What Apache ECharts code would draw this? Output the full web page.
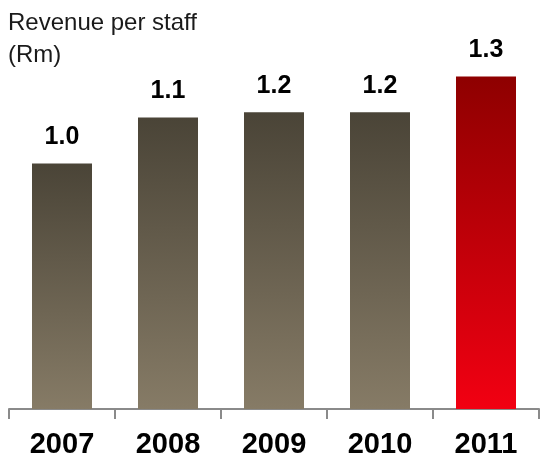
<!DOCTYPE html>
<html>
<head>
<meta charset="utf-8">
<script src="https://cdn.jsdelivr.net/npm/echarts@6/dist/echarts.min.js"></script>
<style>
  html, body { margin: 0; padding: 0; background: #fff; }
  #chart { width: 541px; height: 459px; }
</style>
</head>
<body>
<div id="chart"></div>
<script>
// Revenue per staff (Rm), by financial year
const years = ['2007', '2008', '2009', '2010', '2011'];
const revenuePerStaff = [0.96, 1.14, 1.16, 1.16, 1.30];
const highlightYear = '2011';

const FONT = '"Liberation Sans", Arial, sans-serif';

function barGradient(top, bottom) {
  return new echarts.graphic.LinearGradient(0, 0, 0, 1, [
    { offset: 0, color: top },
    { offset: 1, color: bottom }
  ]);
}

const seriesData = years.map((y, i) => ({
  value: revenuePerStaff[i],
  itemStyle: {
    color: y === highlightYear
      ? barGradient('#8e0000', '#f20012')
      : barGradient('#4a4437', '#867b66')
  }
}));

const chart = echarts.init(document.getElementById('chart'), null, { renderer: 'canvas' });
chart.setOption({
  animation: false,
  backgroundColor: '#fff',
  title: {
    text: 'Revenue per staff\n(Rm)',
    left: 3,
    top: 2,
    textStyle: {
      fontFamily: FONT,
      fontSize: 24,
      fontWeight: 'normal',
      lineHeight: 32,
      color: '#1a1a1a'
    }
  },
  grid: { left: 9, right: 2, top: 51, bottom: 50 },
  xAxis: {
    type: 'category',
    data: years,
    boundaryGap: true,
    axisLine: { show: true, lineStyle: { color: '#8a8a8a', width: 2 } },
    axisTick: {
      show: true,
      alignWithLabel: false,
      interval: 0,
      length: 10,
      lineStyle: { color: '#8a8a8a', width: 2 }
    },
    axisLabel: {
      margin: 21,
      fontFamily: FONT,
      fontSize: 29,
      fontWeight: 'bold',
      color: '#000'
    }
  },
  yAxis: {
    type: 'value',
    min: 0,
    max: 1.4,
    show: false,
    splitLine: { show: false }
  },
  series: [{
    type: 'bar',
    data: seriesData,
    barWidth: 60,
    label: {
      show: true,
      position: 'top',
      distance: 14,
      fontFamily: FONT,
      fontSize: 25,
      fontWeight: 'bold',
      color: '#000',
      formatter: p => p.value.toFixed(1)
    }
  }]
});
</script>
</body>
</html>
